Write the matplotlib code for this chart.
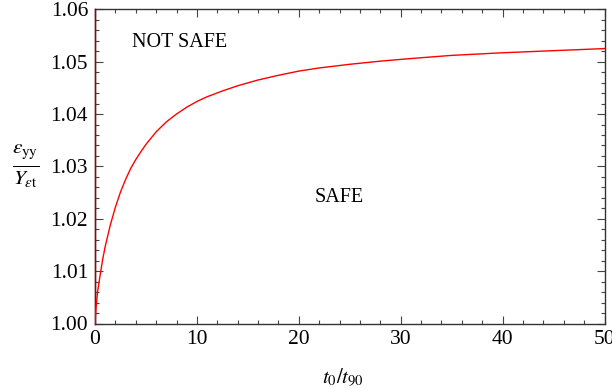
import matplotlib
matplotlib.use("Agg")
import matplotlib.pyplot as plt
from matplotlib.ticker import MultipleLocator, FormatStrFormatter

plt.rcParams['font.family'] = ['Liberation Serif', 'DejaVu Serif']
plt.rcParams['mathtext.fontset'] = 'stix'

# curve values
t_ratio = [0.0, 0.1, 0.25, 0.5, 0.75, 1.0, 1.5, 2.0, 2.5, 3.0, 3.5, 4.0, 4.5, 5.0,
           6.0, 7.0, 8.0, 9.0, 10.0, 11.0, 12.5, 14.0, 16.0, 18.0, 20.0, 22.0, 25.0,
           28.0, 31.0, 35.0, 40.0, 45.0, 50.0]
strain_ratio = [1.0000, 1.0030, 1.0060, 1.0092, 1.0122, 1.0147, 1.0188, 1.0222, 1.0251,
                1.0275, 1.0296, 1.0313, 1.0328, 1.0342, 1.0366, 1.0385, 1.0400, 1.0413,
                1.0424, 1.0433, 1.0444, 1.0454, 1.0465, 1.0474, 1.0482, 1.0488, 1.0495,
                1.0501, 1.0506, 1.0512, 1.0517, 1.0521, 1.0525]
wall_x = [0.0, 0.0]
wall_y = [1.00, 1.06]

fig = plt.figure(figsize=(6.12, 3.89), dpi=100)
ax = fig.add_axes([95/612, 1 - 323.5/389, (604.5-95)/612, (323.5-9.3)/389])

ax.plot(wall_x, wall_y, color='#a00000', lw=1.0, clip_on=False, zorder=3)
ax.plot(t_ratio, strain_ratio, color='red', lw=1.0, zorder=3)

ax.set_xlim(0, 50)
ax.set_ylim(1.00, 1.06)
ax.xaxis.set_major_locator(MultipleLocator(10))
ax.xaxis.set_minor_locator(MultipleLocator(2))
ax.yaxis.set_major_locator(MultipleLocator(0.01))
ax.yaxis.set_minor_locator(MultipleLocator(0.002))
ax.yaxis.set_major_formatter(FormatStrFormatter('%.2f'))
ax.tick_params(which='both', direction='in', top=True, right=True, color='#444444',
               labelsize=15.5, width=0.8)
ax.tick_params(which='major', length=5.5, pad=5)
ax.tick_params(which='minor', length=3)
for s in ax.spines.values():
    s.set_color('#333333')
    s.set_linewidth(1.0)

ax.text(8.3, 1.0537, 'NOT SAFE', fontsize=14.5, ha='center', va='center')
ax.text(24.0, 1.0240, 'SAFE', fontsize=14.5, ha='center', va='center')

fig.text(343/612, 1 - 377/389, r'$t_0/t_{90}$', fontsize=15, ha='center', va='center')
fig.text(26/612, 1 - 166/389, r'$\frac{\varepsilon_{\rm yy}}{Y_{\varepsilon {\rm t}}}$',
         fontsize=22, ha='center', va='center')

fig.savefig('out.png', dpi=100)
